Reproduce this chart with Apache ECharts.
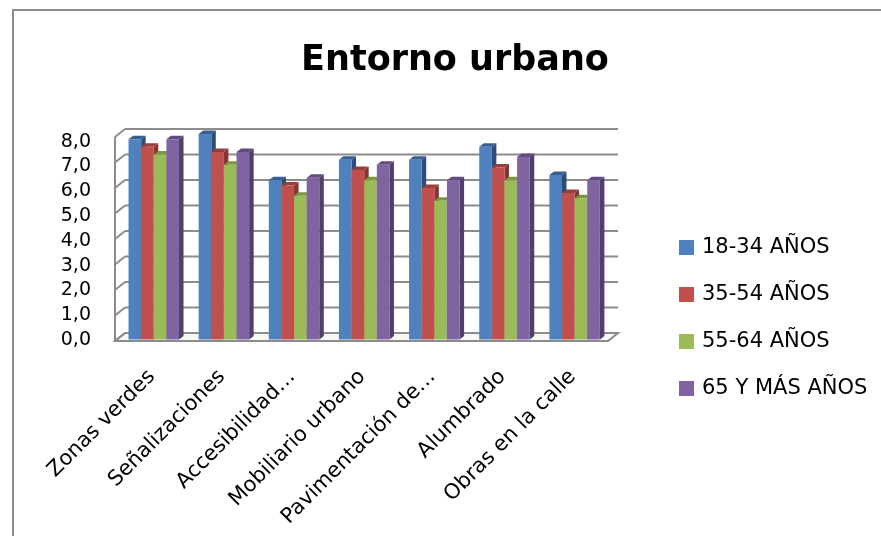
<!DOCTYPE html>
<html><head><meta charset="utf-8">
<script src="https://cdn.jsdelivr.net/npm/echarts@6/dist/echarts.min.js"></script>
<style>html,body{margin:0;padding:0;background:#fff}#c{width:881px;height:536px}</style>
</head><body><div id="c"></div>
<script>
const categories = ['Zonas verdes','Señalizaciones','Accesibilidad…','Mobiliario urbano','Pavimentación de…','Alumbrado','Obras en la calle'];
const seriesNames = ['18-34 AÑOS','35-54 AÑOS','55-64 AÑOS','65 Y MÁS AÑOS'];
const v18_34 = [7.8, 8.0, 6.2, 7.0, 7.0, 7.5, 6.4];
const v35_54 = [7.5, 7.3, 6.0, 6.6, 5.9, 6.7, 5.7];
const v55_64 = [7.2, 6.8, 5.6, 6.2, 5.4, 6.2, 5.5];
const v65mas = [7.8, 7.3, 6.3, 6.8, 6.2, 7.1, 6.2];
const yTicks = [0, 1, 2, 3, 4, 5, 6, 7, 8];
const yTickLabels = ['0,0','1,0','2,0','3,0','4,0','5,0','6,0','7,0','8,0'];

const seriesValues = [v18_34, v35_54, v55_64, v65mas];
const frontCol = ['#4F81BD','#C0504D','#9BBB59','#8064A2'];
const topCol = ['#375F92','#983E3B','#7A9840','#634B82'];
const sideCol = ['#2C4D77','#853432','#6A8636','#523E6C'];
const FONT = 'DejaVu Sans';
const DX = 4.5, DY = -3.5;   // bar depth
const WX = 10, WY = -8;      // wall depth
const gridCol = '#8c8c8c';

const chart = echarts.init(document.getElementById('c'));

function wallItem(params, api) {
  const v = api.value(0);
  const pL = api.coord([0, v]);
  const pR = api.coord([7, v]);
  const children = [
    {type:'line', shape:{x1:pL[0]-WX, y1:pL[1]-WY, x2:pL[0], y2:pL[1]}, style:{stroke:gridCol, lineWidth:2}},
    {type:'line', shape:{x1:pL[0], y1:pL[1], x2:pR[0], y2:pR[1]}, style:{stroke:gridCol, lineWidth:2}}
  ];
  if (v === 0) {
    children.unshift({type:'polygon', shape:{points:[[pL[0]-WX,pL[1]-WY],[pR[0]-WX,pR[1]-WY],pR,pL]},
      style:{fill:'#f7f7f7', stroke:gridCol, lineWidth:2}});
    const pT = api.coord([0, 8]);
    children.push({type:'line', shape:{x1:pL[0]-WX, y1:pL[1]-WY, x2:pT[0]-WX, y2:pT[1]-WY}, style:{stroke:gridCol, lineWidth:2}});
  }
  return {type:'group', children};
}

function barRenderer(i) {
  return function (params, api) {
    const c = api.coord([api.value(0), api.value(1)]);
    const b = api.coord([api.value(0), 0]);
    const band = api.size([1, 0])[0];
    const w = band * 0.18;
    const x0 = c[0] - 2 * w + i * w;
    const t = c[1], bt = b[1];
    return {type:'group', children:[
      {type:'polygon', shape:{points:[[x0+w,t],[x0+w+DX,t+DY],[x0+w+DX,bt+DY],[x0+w,bt]]}, style:{fill:sideCol[i]}},
      {type:'polygon', shape:{points:[[x0,t],[x0+w,t],[x0+w+DX,t+DY],[x0+DX,t+DY]]}, style:{fill:topCol[i]}},
      {type:'rect', shape:{x:x0, y:t, width:w, height:bt-t}, style:{fill:frontCol[i]}}
    ]};
  };
}

const series = [{
  type:'custom', name:'wall', xAxisIndex:0, yAxisIndex:0, z:1, silent:true,
  renderItem: wallItem, data: yTicks.map(v => [v])
}];
seriesValues.forEach((vals, i) => {
  series.push({
    type:'custom', name: seriesNames[i], xAxisIndex:1, yAxisIndex:1, z:3 + i,
    itemStyle:{color: frontCol[i]},
    renderItem: barRenderer(i),
    encode:{x:0, y:1},
    data: vals.map((v, j) => [j, v])
  });
});

chart.setOption({
  animation:false,
  textStyle:{fontFamily:FONT},
  title:{text:'Entorno urbano', left:450, top:38, textAlign:'center',
    textStyle:{fontFamily:FONT, fontSize:35, fontWeight:'bold', color:'#000'}},
  legend:{orient:'vertical', left:679, top:237, padding:0, itemWidth:15, itemHeight:15, itemGap:26,
    icon:'rect', data:seriesNames,
    textStyle:{fontFamily:FONT, fontSize:21, color:'#000', padding:[0,0,0,3]}},
  grid:[
    {left:125, right:881-618, top:129, bottom:536-333},       // back wall
    {left:118.7, right:881-609.7, top:134, bottom:536-339.5},  // bars
    {left:115, right:881-608, top:141.7, bottom:536-340},      // y labels
    {left:116.7, right:881-607.7, top:134, bottom:536-339.5}   // x labels
  ],
  xAxis:[
    {gridIndex:0, type:'value', min:0, max:7, show:false},
    {gridIndex:1, type:'category', data:categories, show:false},
    {gridIndex:2, type:'value', min:0, max:1, show:false},
    {gridIndex:3, type:'category', data:categories, axisLine:{show:false}, axisTick:{show:false},
      axisLabel:{rotate:45, margin:34, interval:0, fontFamily:FONT, fontSize:21, color:'#000'}}
  ],
  yAxis:[
    {gridIndex:0, type:'value', min:0, max:8, interval:1, show:false},
    {gridIndex:1, type:'value', min:0, max:8, interval:1, show:false},
    {gridIndex:2, type:'value', min:0, max:8, interval:1, axisLine:{show:false}, axisTick:{show:false},
      splitLine:{show:false},
      axisLabel:{margin:24, fontFamily:FONT, fontSize:19, color:'#000', formatter:(v) => yTickLabels[yTicks.indexOf(v)]}},
    {gridIndex:3, type:'value', min:0, max:8, show:false}
  ],
  graphic:[{type:'rect', shape:{x:13, y:10, width:900, height:600}, style:{fill:'none', stroke:'#8c8c8c', lineWidth:2}, z:0, silent:true}],
  series
});
</script></body></html>
